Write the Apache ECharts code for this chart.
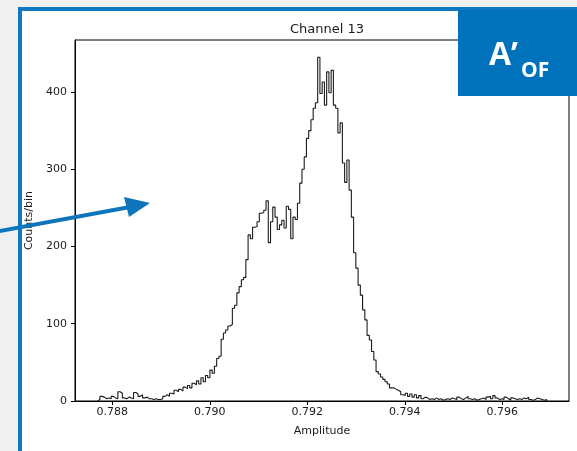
<!DOCTYPE html>
<html>
<head>
<meta charset="utf-8">
<script src="https://cdn.jsdelivr.net/npm/echarts@6/dist/echarts.min.js"></script>
<style>
  html, body { margin: 0; padding: 0; background: #f0f0f0; }
  #chart { width: 577px; height: 451px; }
</style>
</head>
<body>
<div id="chart"></div>
<script>
// ---- data ----
const title = 'Channel 13';
const xName = 'Amplitude';
const yName = 'Counts/bin';
const binStart = 0.7877;
const binEnd = 0.79691;
const counts = [
  2,6,5,3,4,3,6,4,3,12,
  10,4,3,5,4,3,11,9,6,8,
  4,5,3,3,2,3,2,2,3,6,
  8,6,10,9,14,12,15,13,18,16,
  20,17,23,21,26,22,30,25,33,30,
  40,36,45,55,58,80,88,92,97,99,
  120,124,140,148,157,160,183,215,210,225,
  226,232,243,244,247,259,205,232,251,238,
  222,228,234,224,252,248,210,238,235,256,
  282,300,316,340,350,364,379,386,445,398,
  413,383,426,399,428,383,379,347,360,308,
  283,312,273,238,192,172,150,137,118,105,
  85,79,64,53,38,35,31,28,25,22,
  17,17,15,14,12,8,7,10,6,9,
  5,8,4,7,3,5,4,2,3,2,
  4,2,3,1,2,3,2,4,3,2,
  5,3,2,4,6,3,2,3,1,2,
  3,4,2,5,6,3,7,4,2,3,
  2,5,3,1,4,3,2,3,2,4,
  3,5,2,1,2,4,3,2,1,2
];
const xTicks = [0.788, 0.790, 0.792, 0.794, 0.796];
const yTicks = [0, 100, 200, 300, 400];
const xMin = 0.787235, xMax = 0.797368;
const yMin = 0, yMax = 467.3;

// ---- build step histogram points ----
const binWidth = (binEnd - binStart) / counts.length;
const pts = [[binStart, 0]];
counts.forEach((c, i) => pts.push([binStart + i * binWidth, c]));
pts.push([binEnd, counts[counts.length - 1]]);
pts.push([binEnd, 0]);

const blue = '#0f78c2';
const boxBlue = '#0072bb';
const txt = '#1a1a1a';
const font = 'DejaVu Sans';

const chart = echarts.init(document.getElementById('chart'), null, { renderer: 'canvas' });
chart.setOption({
  backgroundColor: '#f0f0f0',
  animation: false,
  title: {
    text: title,
    left: 322, top: 18,
    textAlign: 'center',
    textStyle: { fontFamily: font, fontSize: 13, fontWeight: 'normal', color: txt }
  },
  grid: {
    left: 75, right: 8, top: 40, bottom: 50,
    show: true, borderColor: '#000', borderWidth: 1, backgroundColor: 'transparent',
    containLabel: false, outerBoundsMode: 'none'
  },
  xAxis: {
    type: 'value', min: xMin, max: xMax,
    name: xName, nameLocation: 'middle', nameGap: 25,
    nameTextStyle: { fontFamily: font, fontSize: 11, color: txt },
    axisLine: { show: true, onZero: false, lineStyle: { color: '#000', width: 1 } },
    axisTick: { show: true, inside: false, length: 4, customValues: xTicks, lineStyle: { color: '#000' } },
    axisLabel: {
      customValues: xTicks, margin: 6,
      fontFamily: font, fontSize: 11, color: txt,
      formatter: v => v.toFixed(3)
    },
    splitLine: { show: false }
  },
  yAxis: {
    type: 'value', min: yMin, max: yMax,
    name: yName, nameLocation: 'middle', nameGap: 37, nameRotate: 90,
    nameTextStyle: { fontFamily: font, fontSize: 11, color: txt },
    axisLine: { show: true, onZero: false, lineStyle: { color: '#000', width: 1 } },
    axisTick: { show: true, inside: false, length: 4, customValues: yTicks, lineStyle: { color: '#000' } },
    axisLabel: {
      customValues: yTicks, margin: 8,
      fontFamily: font, fontSize: 11, color: txt
    },
    splitLine: { show: false }
  },
  series: [{
    type: 'line',
    data: pts,
    step: 'end',
    showSymbol: false,
    symbol: 'none',
    lineStyle: { color: '#1c1c1c', width: 1.1 },
    z: 3
  }],
  graphic: [
    { type: 'rect', z: -10, silent: true,
      shape: { x: 20, y: 9, width: 700, height: 600 },
      style: { fill: '#ffffff', stroke: blue, lineWidth: 4 } },
    { type: 'rect', z: 100, silent: true,
      shape: { x: 458, y: 10, width: 130, height: 86 },
      style: { fill: boxBlue } },
    { type: 'text', z: 101, silent: true, x: 489, y: 56,
      style: { text: 'A’', fill: '#fff', font: 'bold 32px "Open Sans"', textVerticalAlign: 'middle' } },
    { type: 'text', z: 101, silent: true, x: 521, y: 71,
      style: { text: 'OF', fill: '#fff', font: 'bold 21px "Open Sans"', textVerticalAlign: 'middle' } },
    { type: 'polyline', z: 110, silent: true,
      shape: { points: [[-5, 232], [130, 207]] },
      style: { stroke: '#0e75bc', lineWidth: 4, fill: null } },
    { type: 'polygon', z: 110, silent: true,
      shape: { points: [[150, 203], [124, 197], [129, 217]] },
      style: { fill: '#0e75bc' } }
  ]
});
</script>
</body>
</html>
